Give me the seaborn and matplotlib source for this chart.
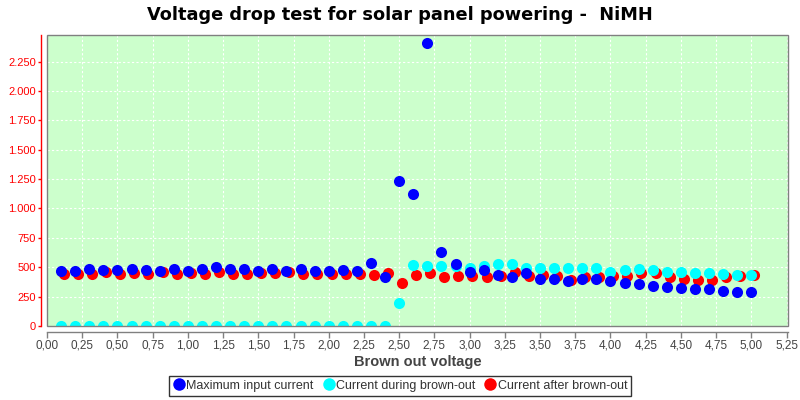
import matplotlib
matplotlib.use("Agg")
import matplotlib.pyplot as plt
import seaborn as sns
import pandas as pd
from matplotlib.patches import Rectangle
from matplotlib.ticker import FuncFormatter, MultipleLocator
from matplotlib.lines import Line2D

voltage = [0.1, 0.2, 0.3, 0.4, 0.5, 0.6, 0.7, 0.8, 0.9, 1.0,
           1.1, 1.2, 1.3, 1.4, 1.5, 1.6, 1.7, 1.8, 1.9, 2.0,
           2.1, 2.2, 2.3, 2.4, 2.5, 2.6, 2.7, 2.8, 2.9, 3.0,
           3.1, 3.2, 3.3, 3.4, 3.5, 3.6, 3.7, 3.8, 3.9, 4.0,
           4.1, 4.2, 4.3, 4.4, 4.5, 4.6, 4.7, 4.8, 4.9, 5.0]
voltage_after = [0.12, 0.22, 0.32, 0.42, 0.52, 0.62, 0.72, 0.82, 0.92, 1.02,
                 1.12, 1.22, 1.32, 1.42, 1.52, 1.62, 1.72, 1.82, 1.92, 2.02,
                 2.12, 2.22, 2.32, 2.42, 2.52, 2.62, 2.72, 2.82, 2.92, 3.02,
                 3.12, 3.22, 3.32, 3.42, 3.52, 3.62, 3.72, 3.82, 3.92, 4.02,
                 4.12, 4.22, 4.32, 4.42, 4.52, 4.62, 4.72, 4.82, 4.92, 5.02]

max_input = [471, 471, 485, 477, 477, 488, 477, 465, 488, 471,
             485, 505, 482, 482, 471, 482, 471, 482, 471, 471,
             477, 471, 533, 414, 1234, 1123, 2411, 633, 525, 457,
             477, 434, 417, 454, 403, 397, 383, 397, 397, 386,
             363, 357, 340, 329, 323, 312, 312, 298, 289, 289]
during = [0, 0, 0, 0, 0, 0, 0, 0, 0, 0,
          0, 0, 0, 0, 0, 0, 0, 0, 0, 0,
          0, 0, 0, 0, 199, 520, 508, 508, 514, 491,
          513, 530, 530, 496, 496, 496, 496, 496, 496, 460,
          477, 482, 477, 463, 457, 454, 448, 442, 434, 434]
after = [442, 442, 442, 457, 442, 448, 442, 460, 442, 454,
         442, 457, 442, 442, 454, 454, 460, 442, 442, 442,
         442, 442, 434, 448, 370, 432, 452, 418, 426, 428,
         420, 428, 457, 428, 434, 428, 391, 420, 420, 428,
         428, 448, 454, 414, 397, 391, 391, 420, 428, 434]

labels = ["Maximum input current", "Current during brown-out", "Current after brown-out"]
colors = ["#0000FF", "#00FFFF", "#FF0000"]

title = "Voltage drop test for solar panel powering -  NiMH"
xlabel = "Brown out voltage"

sns.set_theme(style="white")
plt.rcParams["font.family"] = ["Liberation Sans", "DejaVu Sans"]

fig = plt.figure(figsize=(8, 4), dpi=100)
ax = fig.add_axes([47/800, 74/400, (788-47)/800, (326-34.5)/400])
ax.set_facecolor("#CCFFCC")

df_b = pd.DataFrame({"x": voltage, "y": max_input})
df_c = pd.DataFrame({"x": voltage, "y": during})
df_r = pd.DataFrame({"x": voltage_after, "y": after})

ms = 64
sns.scatterplot(data=df_r, x="x", y="y", ax=ax, color=colors[2], s=ms, linewidth=0, zorder=3)
sns.scatterplot(data=df_c, x="x", y="y", ax=ax, color=colors[1], s=ms, linewidth=0, zorder=4)
sns.scatterplot(data=df_b, x="x", y="y", ax=ax, color=colors[0], s=ms, linewidth=0, zorder=5)

ax.set_xlim(0, 5.26)
ax.set_ylim(0, 2480)
ax.xaxis.set_major_locator(MultipleLocator(0.25))
ax.yaxis.set_major_locator(MultipleLocator(250))
ax.xaxis.set_major_formatter(FuncFormatter(lambda v, p: f"{v:.2f}".replace(".", ",")))
ax.yaxis.set_major_formatter(FuncFormatter(lambda v, p: f"{int(round(v)):,}".replace(",", ".")))

ax.grid(True, color="white", linestyle=(0, (2, 2)), linewidth=0.8)
ax.set_axisbelow(True)

for s in ["top", "right"]:
    ax.spines[s].set_visible(False)
ax.spines["left"].set_position(("outward", 4))
ax.spines["left"].set_color("#FF0000")
ax.spines["left"].set_linewidth(1)
ax.spines["bottom"].set_position(("outward", 4))
ax.spines["bottom"].set_color("#808080")
ax.spines["bottom"].set_linewidth(1)
ax.add_patch(Rectangle((0, 0), 1, 1, transform=ax.transAxes, fill=False,
                       edgecolor="#808080", linewidth=1, zorder=6, clip_on=False))

ax.tick_params(axis="y", colors="#FF0000", labelcolor="#FF0000", labelsize=8,
               length=2, width=1, left=True, pad=2)
ax.tick_params(axis="x", colors="#808080", labelcolor="#444444", labelsize=8.5,
               length=4, width=1, bottom=True, pad=2)

ax.set_xlabel(xlabel, fontsize=10.5, fontweight="bold", color="#444444", labelpad=2)
ax.set_ylabel("")
fig.suptitle(title, x=0.5, y=0.985, fontsize=12.8, fontweight="bold",
             family="DejaVu Sans", color="black")

handles = [Line2D([], [], marker="o", linestyle="", markersize=9,
                  markerfacecolor=c, markeredgecolor="none") for c in colors]
leg = fig.legend(handles, labels, loc="lower center", bbox_to_anchor=(0.5, 0.005),
                 ncol=3, frameon=True, fancybox=False, fontsize=9,
                 handletextpad=0.1, columnspacing=0.7, handlelength=1.0,
                 borderpad=0.3, borderaxespad=0.2)
leg.get_frame().set_edgecolor("black")
leg.get_frame().set_linewidth(1)
for t in leg.get_texts():
    t.set_color("#333333")

fig.savefig("out.png", dpi=100)
